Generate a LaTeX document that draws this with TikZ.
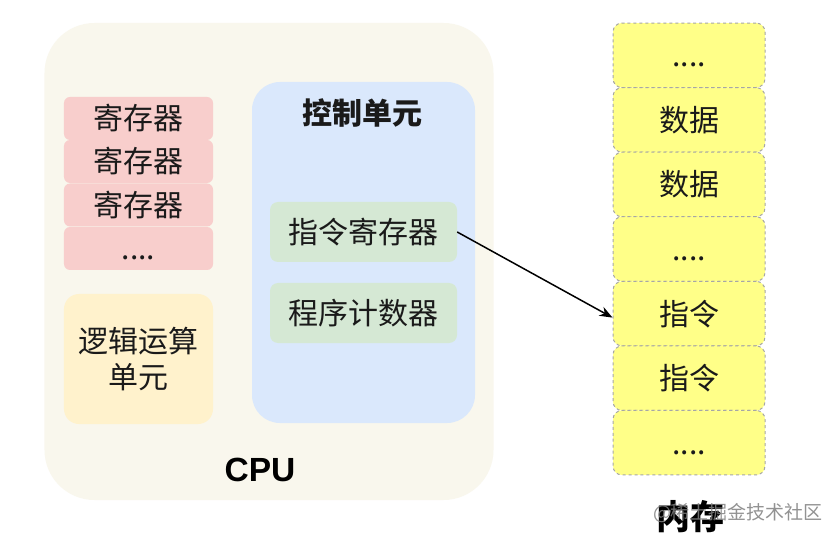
\documentclass[tikz,border=0pt]{standalone}
\usepackage{fontspec}
\setmainfont{Noto Sans CJK SC}
\newfontfamily\cjk{Noto Sans CJK SC}
\newfontfamily\lat{Liberation Sans}
\usetikzlibrary{arrows.meta}
\definecolor{cpubg}{HTML}{F9F7ED}
\definecolor{regfill}{HTML}{F8CECC}
\definecolor{alufill}{HTML}{FFF2CC}
\definecolor{cufill}{HTML}{DAE8FC}
\definecolor{grfill}{HTML}{D5E8D4}
\definecolor{memfill}{HTML}{FFFF88}
\definecolor{memline}{HTML}{A6A6A6}
\definecolor{txt}{HTML}{1A1A1A}
\tikzset{
  basefont/.style={font=\cjk\fontsize{30bp}{36bp}\selectfont, text=txt, text height=25bp, text depth=2bp, inner sep=0pt},
  regbox/.style={basefont, fill=regfill, rounded corners=6bp, minimum width=149bp, minimum height=43bp},
  grbox/.style={basefont, fill=grfill, rounded corners=8bp, minimum width=187bp, minimum height=60bp},
  membox/.style={basefont, fill=memfill, draw=memline, dashed, line width=1bp, rounded corners=9bp, minimum width=152bp, minimum height=64.57bp},
}
\begin{document}
\begin{tikzpicture}[x=1bp,y=-1bp]
\useasboundingbox[fill=white] (0,0) rectangle (834,541);
% CPU
\node[fill=cpubg, rounded corners=50bp, minimum width=449bp, minimum height=477bp, inner sep=0pt] (cpu) at (269,261.5) {};
% registers
\node[regbox] (r1) at (138.5,118.5) {寄存器};
\node[regbox] (r2) at (138.5,161.5) {寄存器};
\node[regbox] (r3) at (138.5,205) {寄存器};
\node[regbox] (r4) at (138.5,248.5) {....};
% ALU
\node[fill=alufill, rounded corners=15bp, minimum width=149bp, minimum height=130bp, inner sep=0pt,
  font=\cjk\fontsize{30bp}{36bp}\selectfont, text=txt, align=center] (alu) at (138.5,359) {逻辑运算\\单元};
% control unit
\node[fill=cufill, rounded corners=28bp, minimum width=223bp, minimum height=341bp, inner sep=0pt] (cu) at (363.5,252.5) {};
\node[basefont, font=\cjk\bfseries\fontsize{30bp}{36bp}\selectfont] (cutitle) at (362,113) {控制单元};
\node[grbox] (ir) at (363.5,232) {指令寄存器};
\node[grbox] (pc) at (363.5,313) {程序计数器};
\node[font=\lat\bfseries\fontsize{33.5bp}{40bp}\selectfont, text=black, inner sep=0pt] (cpulabel) at (260,470) {CPU};
% memory
\node[membox] (m1) at (689,55.3) {....};
\node[membox] (m2) at (689,119.9) {数据};
\node[membox] (m3) at (689,184.5) {数据};
\node[membox] (m4) at (689,249.0) {....};
\node[membox] (m5) at (689,313.6) {指令};
\node[membox] (m6) at (689,378.2) {指令};
\node[membox] (m7) at (689,442.7) {....};
\node[font=\cjk\bfseries\fontsize{34bp}{40bp}\selectfont, text=black, inner sep=0pt] (memlabel) at (690,517) {内存};
\node[font=\cjk\fontsize{19bp}{22bp}\selectfont, text=gray, opacity=0.85, inner sep=0pt] (wm) at (738,513) {@稀土掘金技术社区};
% arrow
\draw[line width=1.5bp, -{Stealth[length=13bp,width=10bp]}] (ir.east) -- ([yshift=-4bp]m5.west);
\end{tikzpicture}
\end{document}
